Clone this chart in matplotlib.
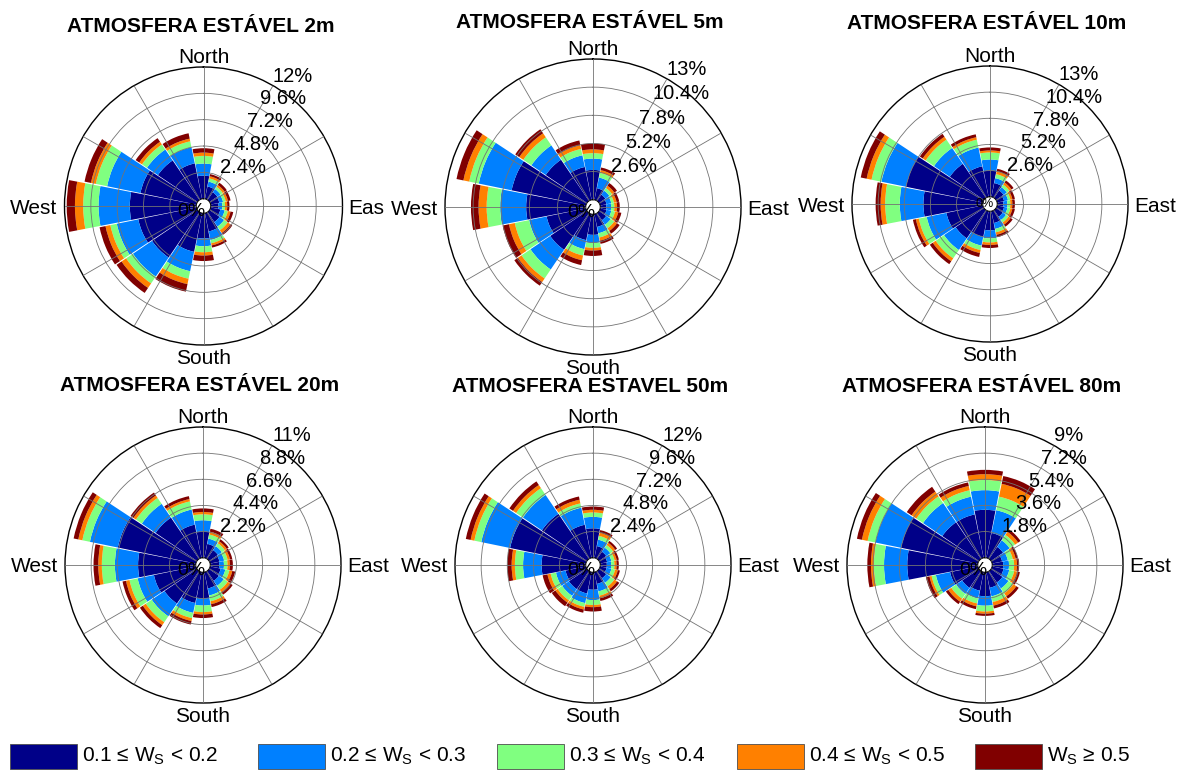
"""Wind roses for stable atmosphere at six heights (2 x 3 grid + legend)."""

import matplotlib

matplotlib.use("Agg")
import matplotlib.pyplot as plt  # noqa: E402
import numpy as np  # noqa: E402
from matplotlib import font_manager  # noqa: E402
from matplotlib.patches import Rectangle  # noqa: E402

plt.rcParams["font.family"] = ["Liberation Sans", "DejaVu Sans"]

W_PX, H_PX = 1186, 774

# compass direction of each sector: N, NNE, NE, ... NNW
directions = np.arange(0, 360, 22.5)
compass_labels = ["North", "East", "South", "West"]
class_labels = [
    r"0.1 ≤ $\mathrm{W_S}$ < 0.2",
    r"0.2 ≤ $\mathrm{W_S}$ < 0.3",
    r"0.3 ≤ $\mathrm{W_S}$ < 0.4",
    r"0.4 ≤ $\mathrm{W_S}$ < 0.5",
    r"$\mathrm{W_S}$ ≥ 0.5",
]
class_colors = ["#000088", "#0080ff", "#80ff80", "#ff8000", "#800000"]

# frequency (%) per direction sector, one row per speed class
freq_2m = [
    [2.1, 1.15, 0.85, 0.8, 0.7, 0.9, 1.1, 1.7, 2.3, 3.6, 5.0, 5.4, 6.05, 5.2, 4.35, 3.3],
    [1.1, 0.45, 0.35, 0.35, 0.35, 0.4, 0.5, 0.8, 0.7, 1.8, 2.1, 2.0, 2.85, 3.1, 1.2, 1.5],
    [0.7, 0.3, 0.25, 0.25, 0.25, 0.3, 0.4, 0.3, 0.55, 0.7, 0.75, 0.6, 1.4, 1.05, 0.55, 0.55],
    [0.3, 0.2, 0.2, 0.2, 0.2, 0.25, 0.3, 0.2, 0.3, 0.5, 0.5, 0.45, 0.75, 0.45, 0.3, 0.25],
    [0.4, 0.2, 0.25, 0.25, 0.2, 0.25, 0.2, 0.2, 0.5, 0.7, 0.55, 0.55, 0.75, 0.6, 0.4, 0.5],
]
freq_5m = [
    [2.75, 1.1, 0.7, 0.6, 0.55, 0.6, 0.8, 1.2, 1.9, 2.45, 4.1, 3.7, 5.5, 7.0, 4.6, 3.1],
    [1.05, 1.0, 0.45, 0.45, 0.45, 0.45, 0.5, 0.6, 0.75, 0.85, 2.2, 1.65, 2.4, 3.1, 1.6, 1.1],
    [0.5, 0.45, 0.3, 0.25, 0.3, 0.35, 0.4, 0.4, 0.45, 0.6, 1.0, 1.35, 1.25, 0.9, 0.9, 0.6],
    [0.35, 0.25, 0.25, 0.25, 0.25, 0.3, 0.3, 0.3, 0.25, 0.45, 0.4, 0.55, 0.75, 0.55, 0.45, 0.35],
    [0.55, 0.25, 0.3, 0.25, 0.25, 0.3, 0.3, 0.3, 0.5, 0.45, 0.4, 0.6, 0.7, 0.65, 0.45, 0.45],
]
freq_10m = [
    [2.6, 1.4, 0.9, 0.7, 0.6, 0.7, 0.8, 1.2, 1.9, 2.6, 3.4, 3.7, 5.9, 7.8, 4.1, 3.1],
    [1.1, 0.5, 0.4, 0.4, 0.4, 0.35, 0.4, 0.6, 0.8, 0.9, 1.4, 2.0, 2.35, 2.5, 1.9, 1.9],
    [0.7, 0.4, 0.3, 0.25, 0.3, 0.3, 0.3, 0.35, 0.4, 0.45, 1.0, 0.8, 1.45, 1.0, 1.0, 0.8],
    [0.2, 0.3, 0.25, 0.2, 0.2, 0.2, 0.25, 0.25, 0.25, 0.3, 0.35, 0.3, 0.45, 0.5, 0.35, 0.25],
    [0.3, 0.25, 0.25, 0.25, 0.25, 0.25, 0.25, 0.25, 0.3, 0.4, 0.35, 0.3, 0.5, 0.6, 0.35, 0.3],
]
freq_20m = [
    [2.2, 1.2, 0.9, 0.8, 0.75, 0.9, 1.0, 1.4, 2.2, 2.65, 3.3, 3.6, 4.85, 6.7, 4.2, 2.85],
    [0.95, 0.45, 0.4, 0.4, 0.4, 0.4, 0.5, 0.6, 0.6, 0.85, 1.3, 1.4, 1.95, 2.4, 1.4, 1.3],
    [0.5, 0.35, 0.3, 0.3, 0.3, 0.35, 0.4, 0.5, 0.55, 0.45, 0.6, 0.7, 1.1, 0.65, 0.6, 0.7],
    [0.2, 0.25, 0.2, 0.2, 0.2, 0.25, 0.25, 0.25, 0.2, 0.25, 0.3, 0.3, 0.3, 0.35, 0.25, 0.2],
    [0.3, 0.25, 0.2, 0.2, 0.25, 0.25, 0.25, 0.25, 0.3, 0.3, 0.3, 0.3, 0.4, 0.4, 0.3, 0.25],
]
freq_50m = [
    [2.7, 1.1, 0.8, 0.65, 0.6, 0.6, 0.8, 1.1, 1.6, 2.0, 2.0, 1.9, 4.05, 7.1, 5.0, 3.1],
    [1.05, 0.6, 0.45, 0.4, 0.4, 0.45, 0.5, 0.7, 0.95, 0.9, 0.75, 0.9, 1.7, 2.7, 2.1, 1.6],
    [0.4, 0.35, 0.3, 0.3, 0.3, 0.35, 0.4, 0.4, 0.45, 0.35, 0.5, 0.5, 0.75, 0.65, 0.75, 0.4],
    [0.25, 0.3, 0.25, 0.2, 0.2, 0.25, 0.3, 0.25, 0.2, 0.25, 0.25, 0.3, 0.3, 0.35, 0.35, 0.35],
    [0.3, 0.25, 0.2, 0.2, 0.2, 0.2, 0.25, 0.25, 0.4, 0.3, 0.4, 0.45, 0.4, 0.45, 0.4, 0.3],
]
freq_80m = [
    [3.3, 1.75, 1.0, 0.7, 0.75, 0.8, 0.95, 1.1, 1.65, 1.3, 1.4, 1.95, 4.85, 5.4, 3.05, 3.05],
    [1.35, 1.6, 0.55, 0.4, 0.4, 0.4, 0.5, 0.6, 0.65, 0.55, 0.5, 1.0, 1.6, 1.8, 1.6, 1.25],
    [0.7, 0.95, 0.45, 0.35, 0.35, 0.35, 0.4, 0.4, 0.4, 0.35, 0.4, 0.3, 0.7, 0.55, 0.55, 0.45],
    [0.4, 0.9, 0.25, 0.2, 0.2, 0.2, 0.25, 0.25, 0.15, 0.2, 0.25, 0.15, 0.2, 0.4, 0.4, 0.3],
    [0.3, 0.55, 0.2, 0.15, 0.15, 0.2, 0.2, 0.2, 0.15, 0.2, 0.2, 0.25, 0.25, 0.35, 0.4, 0.25],
]

titles = [
    "ATMOSFERA ESTÁVEL 2m",
    "ATMOSFERA ESTÁVEL 5m",
    "ATMOSFERA ESTÁVEL 10m",
    "ATMOSFERA ESTÁVEL 20m",
    "ATMOSFERA ESTAVEL 50m",
    "ATMOSFERA ESTÁVEL 80m",
]
frequencies = [freq_2m, freq_5m, freq_10m, freq_20m, freq_50m, freq_80m]
max_radius = [12, 13, 13, 11, 12, 9]

# layout in pixels: circle centre, circle radius, title baseline
centres = [(203.5, 206), (593, 207), (990, 204), (203, 565), (593, 565), (985, 565)]
radii = [139, 148, 138, 138, 138, 138]
title_y = [32, 28, 29, 391, 392, 392]
HOLE_PX = 7.3


def fig_frac(x, y):
    return x / W_PX, 1 - y / H_PX


def draw_rose(fig, freq, rmax, centre, radius, title, ty, small_zero=False):
    cx, cy = centre
    x0, y0 = fig_frac(cx - radius, cy + radius)
    ax = fig.add_axes([x0, y0, 2 * radius / W_PX, 2 * radius / H_PX], projection="polar")
    ax.set_theta_zero_location("N")
    ax.set_theta_direction(-1)
    ax.set_ylim(0, rmax)
    ax.set_rorigin(-HOLE_PX * rmax / (radius - HOLE_PX))

    theta = np.deg2rad(directions)
    width = np.deg2rad(22.5) * 0.97
    bottom = np.zeros(len(directions))
    for vals, color in zip(freq, class_colors):
        vals = np.asarray(vals)
        ax.bar(theta, vals, width=width, bottom=bottom, color=color,
               edgecolor="none", linewidth=0, zorder=1)
        bottom += vals

    rings = np.linspace(0, rmax, 6)[1:]
    ax.set_xticks(np.deg2rad(np.arange(0, 360, 30)))
    ax.set_xticklabels([])
    ax.set_yticks(rings[:-1])
    ax.set_yticklabels([])
    ax.tick_params(length=0)
    ax.set_axisbelow(False)
    ax.grid(True, color="0.45", linewidth=0.6)
    ax.spines["polar"].set_color("black")
    ax.spines["polar"].set_linewidth(1.0)
    if "inner" in ax.spines:
        ax.spines["inner"].set_visible(False)

    for r in rings:
        ax.text(np.deg2rad(30), r, f"{round(r, 1):g}%", ha="left", va="bottom",
                fontsize=14.5, clip_on=False, zorder=5)

    if small_zero:
        ax.annotate("0%", xy=(0.5, 0.5), xycoords="axes fraction", xytext=(4, 0),
                    textcoords="offset pixels", ha="right", va="center", fontsize=9)
    else:
        ax.annotate("0%", xy=(0.5, 0.5), xycoords="axes fraction", xytext=(2, 3),
                    textcoords="offset pixels", ha="right", va="top", fontsize=14)

    label_kw = dict(xycoords="axes fraction", textcoords="offset pixels", fontsize=15)
    ax.annotate(compass_labels[0], xy=(0.5, 1), xytext=(0, 4), ha="center", va="baseline", **label_kw)
    east = ax.annotate(compass_labels[1], xy=(1, 0.5), xytext=(6, -2), ha="left", va="center", **label_kw)
    ax.annotate(compass_labels[2], xy=(0.5, 0), xytext=(0, -4), ha="center", va="top", **label_kw)
    ax.annotate(compass_labels[3], xy=(0, 0.5), xytext=(-7, -2), ha="right", va="center", **label_kw)

    tx, tyf = fig_frac(cx - 3, ty)
    fig.text(tx, tyf, title, ha="center", va="baseline", fontsize=15, fontweight="bold")
    return ax, east


fig = plt.figure(figsize=(W_PX / 100, H_PX / 100), dpi=100)

for i in range(6):
    ax, east = draw_rose(fig, frequencies[i], max_radius[i], centres[i], radii[i],
                         titles[i], title_y[i], small_zero=(i == 2))
    if i == 0:
        # the neighbouring rose cuts this label short in the original
        cut = Rectangle((0, 0), 384 / W_PX, 1, transform=fig.transFigure)
        east.set_clip_path(cut)
        east.set_clip_on(True)

# legend strip along the bottom
names = {f.name for f in font_manager.fontManager.ttflist}
if "Liberation Sans Narrow" in names:
    legend_font, legend_size = "Liberation Sans Narrow", 17
else:
    legend_font, legend_size = "Liberation Sans", 15
plt.rcParams["mathtext.fontset"] = "custom"
plt.rcParams["mathtext.rm"] = legend_font
legend_x = [10, 258, 497, 737, 975]
for x, color, label in zip(legend_x, class_colors, class_labels):
    fx, fy = fig_frac(x, 769)
    fig.add_artist(Rectangle((fx, fy), 67 / W_PX, 25 / H_PX, transform=fig.transFigure,
                             facecolor=color, edgecolor="0.3", linewidth=0.6))
    lx, ly = fig_frac(x + 72, 756)
    fig.text(lx, ly, label, ha="left", va="center", fontsize=legend_size, family=legend_font)

fig.savefig("out.png", dpi=100)
